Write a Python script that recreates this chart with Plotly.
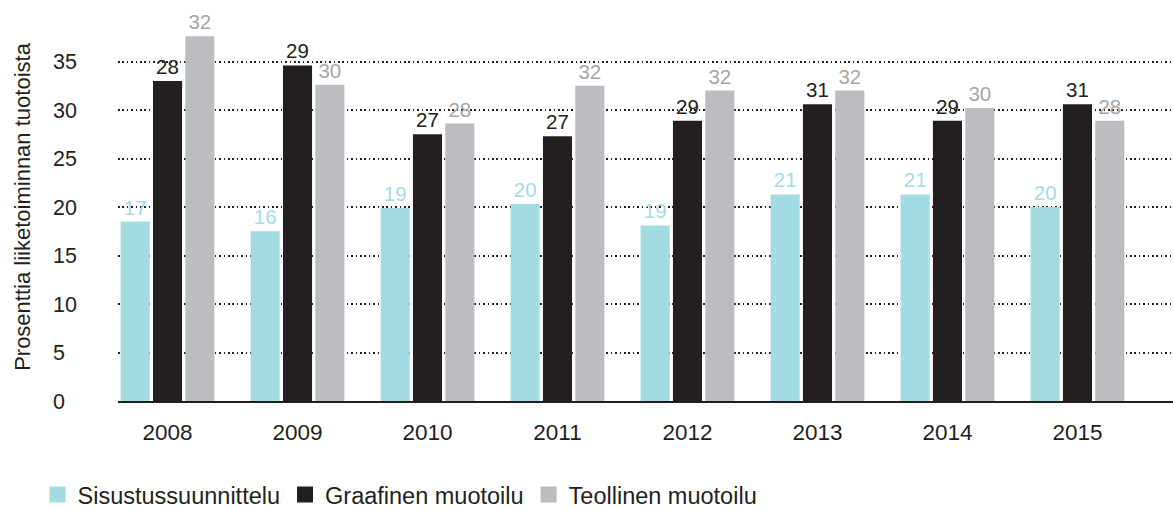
import plotly.graph_objects as go

years = ["2008", "2009", "2010", "2011", "2012", "2013", "2014", "2015"]
series_names = ["Sisustussuunnittelu", "Graafinen muotoilu", "Teollinen muotoilu"]

# bar heights as drawn in the picture
sisustus_bar = [18.5, 17.5, 19.9, 20.3, 18.1, 21.3, 21.3, 20.0]
graafinen_bar = [33.0, 34.6, 27.5, 27.3, 28.9, 30.6, 28.9, 30.6]
teollinen_bar = [37.6, 32.6, 28.6, 32.5, 32.0, 32.0, 30.2, 28.9]

# value labels printed above the bars
sisustus_lab = [17, 16, 19, 20, 19, 21, 21, 20]
graafinen_lab = [28, 29, 27, 27, 29, 31, 29, 31]
teollinen_lab = [32, 30, 28, 32, 32, 32, 30, 28]

y_ticks = [0, 5, 10, 15, 20, 25, 30, 35]
y_title = "Prosenttia liiketoiminnan tuotoista"

bar_colors = ["#a2dbe2", "#231f20", "#bcbdc0"]
label_colors = ["#a3dce4", "#231f20", "#a5a6a9"]
FONT = "Liberation Sans, Arial, sans-serif"
DARK = "#231f20"

xpos = list(range(len(years)))
fig = go.Figure()
for name, vals, labs, bc, lc in zip(
    series_names,
    [sisustus_bar, graafinen_bar, teollinen_bar],
    [sisustus_lab, graafinen_lab, teollinen_lab],
    bar_colors, label_colors,
):
    fig.add_trace(go.Bar(
        x=xpos, y=vals, name=name, showlegend=False, legendgroup=name,
        marker=dict(color=bc, line=dict(width=0)),
        text=[str(v) for v in labs], textposition="outside",
        textfont=dict(family=FONT, size=20.5, color=lc),
        constraintext="none", cliponaxis=False,
        hoverinfo="skip",
    ))

# legend entries (larger square swatches, no marks drawn)
for name, bc in zip(series_names, bar_colors):
    fig.add_trace(go.Scatter(
        x=[None], y=[None], mode="markers", name=name, legendgroup=name,
        marker=dict(symbol="square", size=16, color=bc, line=dict(width=0)),
        hoverinfo="skip",
    ))

ticktext = [(str(t) + "\u2007") if t < 10 else str(t) for t in y_ticks]

fig.update_layout(
    width=1173, height=509,
    margin=dict(l=118, r=0, t=13, b=108, autoexpand=False),
    paper_bgcolor="white", plot_bgcolor="white",
    barmode="group", bargap=0.254, bargroupgap=0.10,
    font=dict(family=FONT, color=DARK),
    showlegend=True,
    legend=dict(
        orientation="h", xref="container", yref="container",
        x=0.032, y=0.028, xanchor="left", yanchor="middle",
        font=dict(family=FONT, size=23.5, color=DARK),
        itemsizing="trace", itemclick=False, bgcolor="rgba(0,0,0,0)",
    ),
    xaxis=dict(
        range=[-0.381, 7.735], tickmode="array", tickvals=xpos, ticktext=years,
        tickfont=dict(family=FONT, size=22.5, color=DARK),
        showgrid=False, zeroline=False, automargin=False,
        showline=True, linecolor=DARK, linewidth=2,
        ticks="", ticklabelstandoff=10,
    ),
    yaxis=dict(
        range=[0, 40], tickmode="array", tickvals=y_ticks, ticktext=ticktext,
        tickfont=dict(family=FONT, size=21.5, color=DARK),
        showgrid=True, gridcolor=DARK, gridwidth=1.6, griddash="1.6px,2.8px",
        zeroline=False, showline=False, ticks="", ticklabelstandoff=40,
        automargin=False,
        title=dict(text=y_title, font=dict(family=FONT, size=22, color=DARK), standoff=16),
    ),
)

fig.write_html(
    "out.html",
    config={"displayModeBar": False},
    post_script="document.body.style.margin='0';document.body.style.padding='0';",
)
